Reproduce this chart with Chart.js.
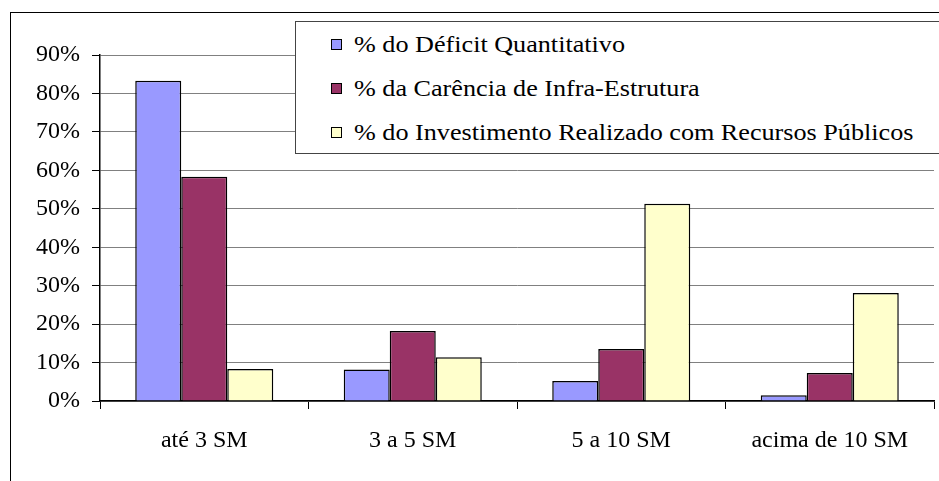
<!DOCTYPE html>
<html>
<head>
<meta charset="utf-8">
<script src="https://cdn.jsdelivr.net/npm/chart.js@4/dist/chart.umd.min.js"></script>
<style>
  html, body { margin: 0; padding: 0; background: #fff; }
  #wrap { position: relative; width: 939px; height: 481px; overflow: hidden; }
  #frame { position: absolute; left: 10px; top: 12px; width: 1000px; height: 600px; border-top: 1.5px solid #000; border-left: 1.5px solid #000; }
  #c { position: absolute; left: 0; top: 0; }
  #legend { position: absolute; left: 295px; top: 21px; width: 700px; height: 133px; background: #fff; border: 1px solid #444; box-sizing: border-box; font-family: "Liberation Serif", Tinos, "DejaVu Serif", serif; font-size: 24px; line-height: 28px; color: #000; }
  .item { position: absolute; left: 35px; height: 28px; white-space: nowrap; display: flex; align-items: center; }
  .sw { width: 9px; height: 9px; border: 1.5px solid #000; margin-right: 12px; flex: none; }
  .txt { display: inline-block; transform-origin: left center; transform: scaleX(1.09); }
</style>
</head>
<body>
<div id="wrap">
  <div id="frame"></div>
  <canvas id="c" width="939" height="481"></canvas>
  <div id="legend"></div>
</div>
<script>
const categories = ["até 3 SM", "3 a 5 SM", "5 a 10 SM", "acima de 10 SM"];
const seriesNames = [
  "% do Déficit Quantitativo",
  "% da Carência de Infra-Estrutura",
  "% do Investimento Realizado com Recursos Públicos"
];
const deficitQuantitativo = [83.3, 8.2, 5.2, 1.5];
const carenciaInfra = [58.3, 18.2, 13.5, 7.3];
const investimentoPublico = [8.3, 11.4, 51.3, 28.1];
const seriesColors = ["#9999FF", "#993366", "#FFFFCC"];
const yTicks = [0, 10, 20, 30, 40, 50, 60, 70, 80, 90];

const allSeries = [deficitQuantitativo, carenciaInfra, investimentoPublico];
const FONT = { family: "'Liberation Serif', Tinos, 'DejaVu Serif', serif", size: 24 };

const chart = new Chart(document.getElementById('c'), {
  type: 'bar',
  data: {
    labels: categories,
    datasets: allSeries.map((vals, i) => ({
      label: seriesNames[i],
      data: vals,
      backgroundColor: seriesColors[i],
      borderColor: '#000',
      borderWidth: 1.5,
      categoryPercentage: 0.662,
      barPercentage: 1.0
    }))
  },
  options: {
    responsive: false,
    animation: false,
    events: [],
    layout: { padding: { left: 0, top: 55, right: 5, bottom: 0 } },
    plugins: { legend: { display: false }, tooltip: { enabled: false }, title: { display: false } },
    scales: {
      x: {
        afterFit: (s) => { s.height = 80; },
        grid: {
          offset: true,
          drawOnChartArea: true,
          color: (ctx) => ctx.index === categories.length ? '#808080' : 'rgba(0,0,0,0)',
          tickColor: '#000',
          tickLength: 8,
          lineWidth: 1
        },
        border: { color: '#000', width: 1.5 },
        ticks: { color: '#000', font: FONT, padding: 17 }
      },
      y: {
        min: 0, max: 90,
        afterFit: (s) => { s.width = 100; },
        afterBuildTicks: (s) => { s.ticks = yTicks.map(v => ({ value: v })); },
        grid: { color: '#808080', lineWidth: 1, tickColor: '#000', tickLength: 8 },
        border: { color: '#000', width: 1.5 },
        ticks: { color: '#000', font: FONT, padding: 12, callback: (v) => v + '%' }
      }
    }
  }
});

const legend = document.getElementById('legend');
const rowTops = [8, 52, 96];
seriesNames.forEach((name, i) => {
  const d = document.createElement('div');
  d.className = 'item';
  d.style.top = rowTops[i] + 'px';
  const sw = document.createElement('span');
  sw.className = 'sw';
  sw.style.background = seriesColors[i];
  const t = document.createElement('span');
  t.className = 'txt';
  t.textContent = name;
  d.appendChild(sw); d.appendChild(t);
  legend.appendChild(d);
});
</script>
</body>
</html>
